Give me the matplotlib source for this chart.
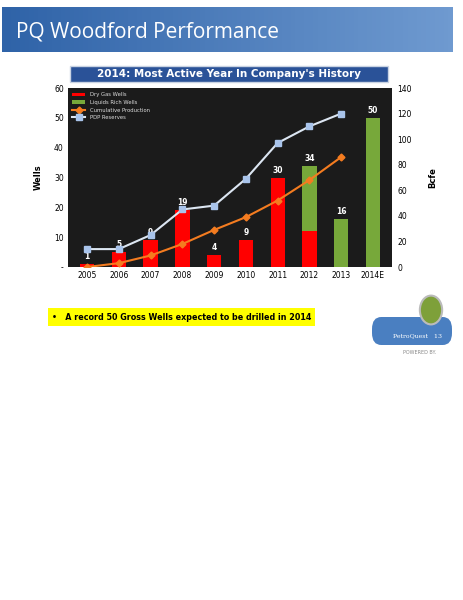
import matplotlib
matplotlib.use("Agg")
import matplotlib.pyplot as plt
from matplotlib.patches import Rectangle, FancyBboxPatch
import numpy as np

years = ["2005","2006","2007","2008","2009","2010","2011","2012","2013","2014E"]
dry_gas = [1,5,9,19,4,9,30,12,0,0]
liquids = [0,0,0,0,0,0,0,22,16,50]
bar_labels = ["1","5","9","19","4","9","30","34","16","50"]
pdp = [14,14,25,45,48,69,97,110,120]
cum = [0,3,9,18,29,39,52,68,86]
left_ticks = [0,10,20,30,40,50,60]
left_ticklabels = ["-","10","20","30","40","50","60"]
right_ticks = [0,20,40,60,80,100,120,140]

fig = plt.figure(figsize=(4.64,6), dpi=100)
fig.patch.set_facecolor("white")
W,H = 464,600
def fx(x): return x/W
def fy(y): return 1-y/H

hdr = fig.add_axes([fx(2), fy(52), fx(451), (52-7)/H])
hdr.imshow(np.linspace(0,1,100).reshape(1,-1), cmap=matplotlib.colors.LinearSegmentedColormap.from_list("b",["#2f63a8","#6f9ad0"]), aspect="auto", extent=[0,1,0,1])
hdr.axis("off")
hdr.text(0.03,0.45,"PQ Woodford Performance",color="white",fontsize=15,family="Open Sans",va="center",transform=hdr.transAxes)

fig.patches.append(Rectangle((fx(70),fy(82)),fx(318),(82-66)/H,transform=fig.transFigure,facecolor="#2a5298",edgecolor="#c9d3e3",lw=1))
fig.text(fx(229),fy(74),"2014: Most Active Year In Company's History",color="white",fontsize=7.5,weight="bold",ha="center",va="center")

ax = fig.add_axes([fx(68),fy(267),fx(324),(267-88)/H])
ax.set_facecolor("#1b1b1b")
x = np.arange(len(years))
ax.bar(x, dry_gas, width=0.45, color="#ff0000", label="Dry Gas Wells", zorder=2)
ax.bar(x, liquids, width=0.45, bottom=dry_gas, color="#77a83a", label="Liquids Rich Wells", zorder=2)
tot = np.array(dry_gas)+np.array(liquids)
for xi,t,l in zip(x,tot,bar_labels):
    ax.text(xi,t+1,l,color="white",fontsize=5.5,weight="bold",ha="center",va="bottom",zorder=5)
ax.set_ylim(0,60); ax.set_xlim(-0.6,9.6)
ax.set_yticks(left_ticks); ax.set_yticklabels(left_ticklabels,fontsize=5.5)
ax.set_xticks(x); ax.set_xticklabels(years,fontsize=5.5)
ax.tick_params(length=0,pad=3)
ax.set_ylabel("Wells",fontsize=6,weight="bold",labelpad=8)
for s in ax.spines.values(): s.set_visible(False)

ax2 = ax.twinx()
ax2.plot(x[:9], cum, color="#f47c20", marker="D", ms=3.5, lw=1.5, label="Cumulative Production", zorder=4)
ax2.plot(x[:9], pdp, color="#dce6f2", marker="s", ms=4.5, mfc="#a9c4eb", mec="#a9c4eb", lw=1.5, label="PDP Reserves", zorder=4)
ax2.set_ylim(0,140); ax2.set_yticks(right_ticks)
ax2.tick_params(labelsize=5.5,length=0,pad=4)
ax2.set_ylabel("Bcfe",fontsize=6,weight="bold",labelpad=12)
for s in ax2.spines.values(): s.set_visible(False)

h1,l1 = ax.get_legend_handles_labels(); h2,l2 = ax2.get_legend_handles_labels()
ax2.legend(h1+h2,l1+l2,loc="upper left",fontsize=3.8,frameon=False,labelcolor="#dddddd",handlelength=2.5,borderaxespad=0.4)

fig.text(fx(52),fy(317),"•   A record 50 Gross Wells expected to be drilled in 2014",fontsize=5.8,weight="bold",va="center",
         bbox=dict(boxstyle="square,pad=0.5",facecolor="#ffff00",edgecolor="none"))

fig.patches.append(FancyBboxPatch((fx(372),fy(345)),fx(80),28/H,boxstyle="round,pad=0,rounding_size=0.02",transform=fig.transFigure,facecolor="#4a7fc1",edgecolor="none"))
fig.patches.append(matplotlib.patches.Circle((fx(431),fy(310)),0.024,transform=fig.transFigure,facecolor="#7ea03a",edgecolor="#bbbbbb",lw=1.5))
fig.text(fx(418),fy(336),"PetroQuest   13",color="white",fontsize=4.5,family="DejaVu Serif",ha="center",va="center")
fig.text(fx(420),fy(353),"POWERED BY.",color="#888888",fontsize=3.5,ha="center",va="center")

fig.savefig("out.png",dpi=100,facecolor="white")
